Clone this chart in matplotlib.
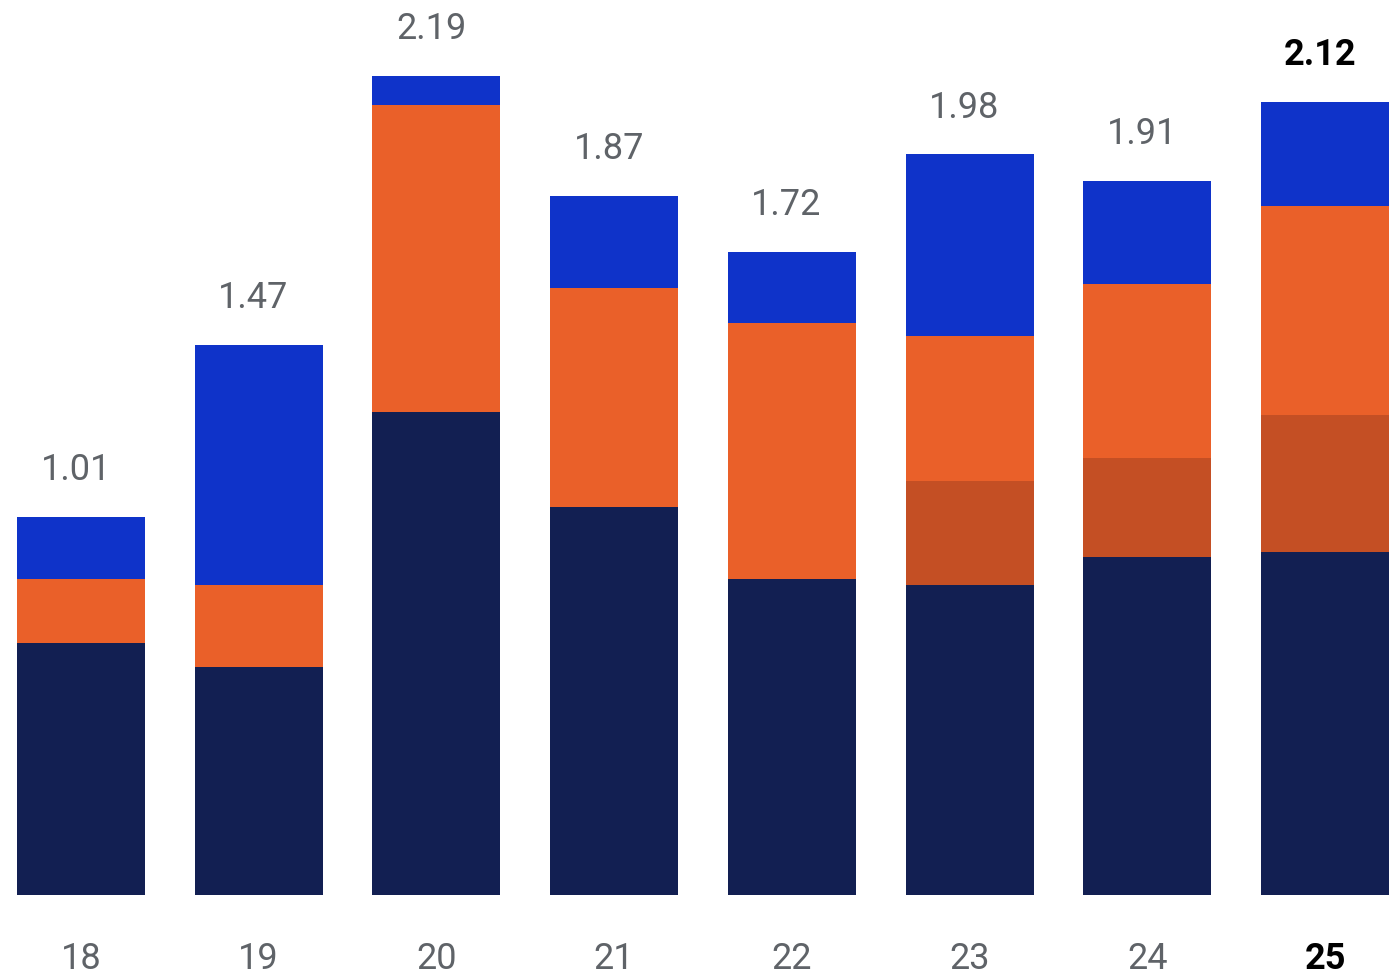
import numpy as np
import matplotlib.pyplot as plt

plt.rcParams['font.family'] = ['Roboto', 'DejaVu Sans']

years = ['18', '19', '20', '21', '22', '23', '24', '25']
totals = [1.01, 1.47, 2.19, 1.87, 1.72, 1.98, 1.91, 2.12]

# stacked segments, bottom to top
base = [0.674, 0.610, 1.291, 1.037, 0.845, 0.829, 0.904, 0.917]
extra = [0, 0, 0, 0, 0, 0.278, 0.264, 0.366]
mid = [0.171, 0.219, 0.821, 0.586, 0.684, 0.388, 0.466, 0.559]
top = [0.165, 0.641, 0.078, 0.247, 0.191, 0.485, 0.276, 0.278]

c_navy = '#121f52'
c_dark = '#c44f24'
c_orange = '#ea6029'
c_blue = '#0f33c9'
c_text = '#5f6368'

fig = plt.figure(figsize=(13.92, 9.76), dpi=100)
ax = fig.add_axes([17 / 1392, 81 / 976, 1372 / 1392, 879 / 976])

x = np.arange(len(years))
w = 0.72
bottom = np.zeros(len(years))
for vals, col in [(base, c_navy), (extra, c_dark), (mid, c_orange), (top, c_blue)]:
    ax.bar(x, vals, w, bottom=bottom, color=col, linewidth=0)
    bottom += np.array(vals)

for i, t in enumerate(totals):
    last = i == len(totals) - 1
    ax.text(x[i] - 0.03, t + 0.125, f'{t:.2f}', ha='center', va='center',
            fontsize=26, color='black' if last else c_text,
            fontweight='bold' if last else 'normal')

ax.set_xlim(-w / 2, len(years) - 1 + w / 2)
ax.set_ylim(0, 2.35)
ax.set_xticks(x)
ax.set_xticklabels(years, fontsize=26, color=c_text)
lbl = ax.get_xticklabels()[-1]
lbl.set_color('black')
lbl.set_fontweight('bold')
ax.tick_params(axis='x', length=0, pad=33)
ax.set_yticks([])
for s in ax.spines.values():
    s.set_visible(False)

fig.savefig('out.png', dpi=100)
